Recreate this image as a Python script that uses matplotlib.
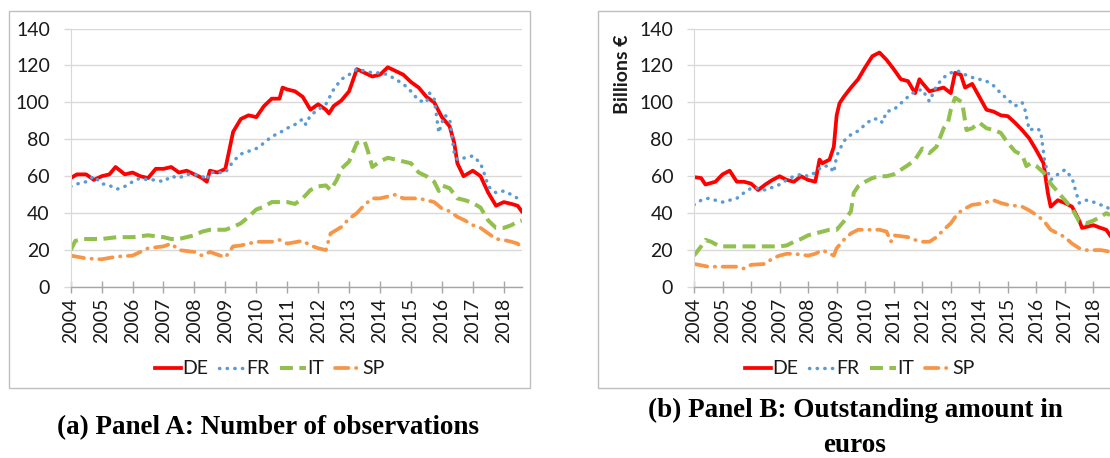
import matplotlib
matplotlib.use("Agg")
import matplotlib.pyplot as plt
from matplotlib.patches import Rectangle

plt.rcParams["font.family"] = ["Lato", "DejaVu Sans"]

# colours (Excel default palette)
C_DE = "#ff0000"
C_FR = "#5b9bd5"
C_IT = "#92c04f"
C_SP = "#f79646"
C_GRID = "#d9d9d9"
C_AXIS = "#a6a6a6"
C_TEXT = "#1a1a1a"

years = list(range(2004, 2019))
series_names = ["DE", "FR", "IT", "SP"]

# ---- Panel A: number of observations ----
a_de_x = [2004.0, 2004.2, 2004.5, 2004.75, 2005.0, 2005.25, 2005.45, 2005.75, 2006.0, 2006.25,
          2006.5, 2006.75, 2007.0, 2007.25, 2007.5, 2007.75, 2008.0, 2008.25, 2008.4, 2008.5,
          2008.75, 2009.0, 2009.25, 2009.5, 2009.75, 2010.0, 2010.25, 2010.5, 2010.75, 2010.85,
          2011.0, 2011.25, 2011.5, 2011.75, 2012.0, 2012.25, 2012.35, 2012.5, 2012.75, 2013.0,
          2013.25, 2013.5, 2013.75, 2014.0, 2014.25, 2014.5, 2014.75, 2015.0, 2015.25, 2015.5,
          2015.75, 2016.0, 2016.25, 2016.4, 2016.5, 2016.7, 2017.0, 2017.25, 2017.5, 2017.75,
          2018.0, 2018.25, 2018.45, 2018.58]
a_de_y = [59, 61, 61, 58, 60, 61, 65, 61, 62, 60,
          59, 64, 64, 65, 62, 63, 61, 59, 57, 63,
          62, 64, 84, 91, 93, 92, 98, 102, 102, 108,
          107, 106, 103, 96, 99, 96, 94, 98, 101, 106,
          118, 116, 114, 115, 119, 117, 115, 111, 108, 103,
          100, 92, 87, 78, 67, 60, 63, 60, 51, 44,
          46, 45, 44, 41]

a_fr_x = [2004.0, 2004.25, 2004.5, 2004.75, 2005.0, 2005.25, 2005.5, 2005.75, 2006.0, 2006.25,
          2006.5, 2006.75, 2007.0, 2007.25, 2007.5, 2007.75, 2008.0, 2008.25, 2008.4, 2008.5,
          2008.75, 2009.0, 2009.25, 2009.5, 2009.75, 2010.0, 2010.25, 2010.5, 2010.75, 2011.0,
          2011.25, 2011.5, 2011.6, 2011.75, 2012.0, 2012.25, 2012.5, 2012.75, 2013.0, 2013.25,
          2013.5, 2013.75, 2014.0, 2014.25, 2014.5, 2014.75, 2015.0, 2015.25, 2015.5, 2015.6,
          2015.75, 2015.9, 2016.0, 2016.1, 2016.25, 2016.4, 2016.5, 2016.75, 2017.0, 2017.25,
          2017.4, 2017.5, 2017.75, 2018.0, 2018.25, 2018.45, 2018.58]
a_fr_y = [54.5, 56, 57, 60, 56, 55, 53, 54.5, 57, 59,
          58, 58, 57, 60, 59, 61, 61, 60, 58, 62,
          62, 62, 68, 72, 73.5, 75, 78, 81.5, 83.5, 86,
          88, 91, 88, 93, 96, 99, 107, 112.5, 115, 118,
          117, 116, 116, 115, 112.5, 110, 106, 101, 100, 105,
          102, 83.5, 89, 93, 91, 72.5, 69, 70, 71, 67,
          60, 54.5, 51, 52, 50, 48, 46]

a_it_x = [2004.0, 2004.15, 2004.4, 2004.75, 2005.0, 2005.5, 2006.0, 2006.5, 2007.0, 2007.25,
          2007.5, 2008.0, 2008.25, 2008.5, 2009.0, 2009.25, 2009.5, 2009.75, 2010.0, 2010.25,
          2010.5, 2011.0, 2011.25, 2011.5, 2011.75, 2012.0, 2012.25, 2012.4, 2012.6, 2012.75,
          2013.0, 2013.25, 2013.5, 2013.6, 2013.75, 2014.0, 2014.25, 2014.5, 2014.75, 2015.0,
          2015.25, 2015.5, 2015.75, 2015.9, 2016.0, 2016.25, 2016.5, 2016.75, 2017.0, 2017.25,
          2017.5, 2017.75, 2018.0, 2018.25, 2018.45, 2018.58]
a_it_y = [20, 25, 26, 26, 26, 27, 27, 28, 27, 26,
          26, 28, 30, 31, 31, 32.5, 34.5, 38, 42, 43.5,
          46, 46, 45, 48, 52.5, 54.5, 55, 52.5, 58, 64,
          68, 78, 79, 74, 65, 68, 70, 69, 68, 67,
          62, 60, 57, 52, 55, 53.5, 48, 47, 45.5, 43,
          36, 32, 32, 33.5, 35.5, 36]

a_sp_x = [2004.0, 2004.5, 2005.0, 2005.5, 2006.0, 2006.25, 2006.5, 2007.0, 2007.25, 2007.5,
          2008.0, 2008.25, 2008.5, 2009.0, 2009.25, 2009.5, 2010.0, 2010.5, 2010.75, 2011.0,
          2011.5, 2011.75, 2012.0, 2012.25, 2012.4, 2012.75, 2013.0, 2013.25, 2013.5, 2013.75,
          2014.0, 2014.25, 2014.5, 2014.75, 2015.0, 2015.25, 2015.5, 2015.75, 2016.0, 2016.25,
          2016.5, 2016.75, 2017.0, 2017.25, 2017.5, 2017.75, 2018.0, 2018.25, 2018.45, 2018.58]
a_sp_y = [17, 15.5, 15, 16.5, 17, 19, 21, 22, 23.5, 20,
          19, 17, 19, 16, 22, 22.5, 24.5, 24.5, 25.5, 23.5,
          25, 22.5, 21, 20, 29, 32.5, 37, 40, 44.5, 48,
          48, 49, 50, 48, 48, 48, 47, 46, 42.5, 41,
          38, 36, 33.5, 32, 29, 26, 25.5, 24.5, 23.5, 21]

# ---- Panel B: outstanding amount (billions EUR) ----
b_de_x = [2004.0, 2004.25, 2004.4, 2004.75, 2005.0, 2005.25, 2005.5, 2005.75, 2006.0, 2006.25,
          2006.5, 2006.75, 2007.0, 2007.25, 2007.5, 2007.75, 2008.0, 2008.25, 2008.4, 2008.5,
          2008.75, 2008.9, 2009.0, 2009.1, 2009.25, 2009.5, 2009.75, 2010.0, 2010.25, 2010.5,
          2010.75, 2011.0, 2011.25, 2011.5, 2011.75, 2011.9, 2012.0, 2012.25, 2012.5, 2012.75,
          2013.0, 2013.15, 2013.35, 2013.5, 2013.75, 2014.0, 2014.25, 2014.5, 2014.75, 2015.0,
          2015.25, 2015.5, 2015.75, 2016.0, 2016.25, 2016.4, 2016.5, 2016.75, 2017.0, 2017.25,
          2017.5, 2017.6, 2018.0, 2018.25, 2018.45, 2018.58]
b_de_y = [59.5, 59, 55.5, 57, 61, 63, 57, 57, 56, 52.5,
          55.5, 58, 60, 58, 57, 60, 58, 57, 69, 67,
          69, 76, 93, 99.5, 103, 108, 112.5, 119, 125, 127,
          123, 118, 112.5, 111.5, 105, 112.5, 110.5, 106, 107, 108,
          105, 116, 115, 108, 110, 103, 96, 95, 93, 92.5,
          89, 85, 80.5, 74, 67, 51, 43.5, 47, 45.5, 43.5,
          36, 32, 33.5, 32, 31, 28]

b_fr_x = [2004.0, 2004.25, 2004.5, 2004.75, 2005.0, 2005.5, 2005.75, 2006.0, 2006.25, 2006.5,
          2007.0, 2007.25, 2007.5, 2007.75, 2008.0, 2008.25, 2008.5, 2008.75, 2008.9, 2009.0,
          2009.25, 2009.5, 2009.75, 2010.0, 2010.25, 2010.5, 2010.6, 2010.75, 2011.0, 2011.25,
          2011.5, 2011.75, 2012.0, 2012.25, 2012.5, 2012.75, 2013.0, 2013.25, 2013.5, 2013.75,
          2014.0, 2014.25, 2014.5, 2014.75, 2015.0, 2015.25, 2015.5, 2015.6, 2015.75, 2016.0,
          2016.15, 2016.3, 2016.5, 2016.75, 2017.0, 2017.25, 2017.5, 2017.75, 2018.0, 2018.25,
          2018.45, 2018.58]
b_fr_y = [44.5, 47, 48, 47, 46, 48, 51, 53.5, 53.5, 52.5,
          55.5, 58, 60, 61, 60, 62, 65.5, 65.5, 62, 71,
          79, 82.5, 84.5, 88, 91, 91, 89, 95, 96, 99.5,
          103, 106, 107, 100.5, 109, 113.5, 116, 117, 115, 113.5,
          112.5, 111.5, 109, 105, 101.5, 98, 100, 96, 85, 86,
          84.5, 67, 58, 61, 63.5, 59, 45.5, 47, 46, 44.5,
          43.5, 42]

b_it_x = [2004.0, 2004.25, 2004.4, 2004.6, 2004.9, 2005.25, 2005.5, 2006.0, 2006.5, 2007.0,
          2007.25, 2007.5, 2007.75, 2008.0, 2008.25, 2008.5, 2008.75, 2009.0, 2009.25, 2009.5,
          2009.6, 2009.75, 2010.0, 2010.25, 2010.5, 2010.75, 2011.0, 2011.25, 2011.5, 2011.75,
          2012.0, 2012.25, 2012.5, 2012.75, 2012.9, 2013.0, 2013.15, 2013.4, 2013.55, 2013.75,
          2014.0, 2014.25, 2014.5, 2014.75, 2015.0, 2015.25, 2015.5, 2015.65, 2015.8, 2016.0,
          2016.25, 2016.5, 2016.75, 2017.0, 2017.25, 2017.5, 2017.75, 2018.0, 2018.25, 2018.45,
          2018.58]
b_it_y = [17, 22, 25.5, 24.5, 22, 22, 22, 22, 22, 22,
          22.5, 24.5, 26, 28, 29, 30, 31, 31, 35.5, 41,
          51, 54.5, 57, 59, 60, 60, 61, 63.5, 66, 69,
          75, 72.5, 76, 86, 89, 96, 102.5, 100, 85, 86,
          89, 86, 85, 83.5, 78, 73.5, 71.5, 65.5, 67, 65.5,
          62, 56, 51.5, 47, 42.5, 35.5, 34.5, 36, 38, 40,
          39]

b_sp_x = [2004.0, 2004.5, 2005.0, 2005.5, 2005.75, 2006.0, 2006.5, 2006.75, 2007.0, 2007.25,
          2007.5, 2008.0, 2008.25, 2008.5, 2008.9, 2009.0, 2009.25, 2009.5, 2009.75, 2010.0,
          2010.5, 2010.75, 2010.9, 2011.0, 2011.5, 2011.75, 2012.0, 2012.25, 2012.5, 2012.75,
          2013.0, 2013.25, 2013.5, 2013.75, 2014.0, 2014.25, 2014.5, 2014.75, 2015.0, 2015.25,
          2015.5, 2015.75, 2016.0, 2016.25, 2016.5, 2016.75, 2017.0, 2017.25, 2017.5, 2017.75,
          2018.0, 2018.25, 2018.45, 2018.58]
b_sp_y = [12.5, 11, 11, 11, 10, 12, 12.5, 15.5, 17, 18,
          18, 17, 18, 20, 17, 21, 25.5, 29, 31, 31,
          31, 30, 24.5, 28, 27, 25.5, 24.5, 24.5, 27, 31,
          34.5, 40, 42.5, 44.5, 45, 46, 47, 45.5, 44.5, 44,
          43.5, 41.5, 39, 36, 31, 29, 27, 23.5, 21, 20,
          20, 20, 19.5, 19]

styles = {
    "DE": dict(color=C_DE, lw=2.7, linestyle="-", solid_joinstyle="round"),
    "FR": dict(color=C_FR, lw=2.5, linestyle=(0, (0.1, 2.1)), dash_capstyle="round"),
    "IT": dict(color=C_IT, lw=2.9, linestyle=(0, (3.2, 1.6))),
    "SP": dict(color=C_SP, lw=2.7, linestyle=(0, (3.6, 2.0, 0.1, 2.0)), dash_capstyle="round"),
}

W, H = 1110, 458
fig = plt.figure(figsize=(W / 100, H / 100), dpi=100)


def fx(px):
    return px / W


def fy(py):
    return 1 - py / H


# panel frames
fig.patches.append(Rectangle((fx(9), fy(388)), fx(530 - 9), (388 - 11) / H,
                             transform=fig.transFigure, fill=False, ec="#bfbfbf", lw=1.0))
fig.patches.append(Rectangle((fx(598), fy(388)), fx(560), (388 - 11) / H,
                             transform=fig.transFigure, fill=False, ec="#bfbfbf", lw=1.0))


def draw_panel(ax, data, legend_cx):
    for name, (xs, ys) in zip(series_names, data):
        ax.plot(xs, ys, label=name, **styles[name])
    ax.set_xlim(2004, 2018.58)
    ax.set_ylim(0, 140)
    ax.set_yticks(range(0, 141, 20))
    ax.set_xticks(years)
    ax.set_xticklabels([str(y) for y in years], rotation=90)
    ax.yaxis.grid(True, color=C_GRID, lw=1.0)
    ax.set_axisbelow(True)
    for s in ["top", "right"]:
        ax.spines[s].set_visible(False)
    ax.spines["left"].set_color(C_GRID)
    ax.spines["bottom"].set_color(C_AXIS)
    ax.spines["bottom"].set_linewidth(1.0)
    ax.tick_params(axis="y", direction="out", length=5, color=C_GRID, width=1.0,
                   labelsize=14, labelcolor=C_TEXT, pad=10)
    ax.tick_params(axis="x", direction="inout", length=8, color=C_AXIS, width=1.0,
                   labelsize=14, labelcolor=C_TEXT, pad=4)
    ax.legend(loc="center", bbox_to_anchor=(fx(legend_cx), fy(369)),
              bbox_transform=fig.transFigure, ncol=4, frameon=False,
              fontsize=14, handlelength=1.3, handletextpad=0.1,
              columnspacing=0.55, borderpad=0, labelcolor=C_TEXT)


ax_a = fig.add_axes([fx(70.7), fy(287), fx(451), 258.5 / H])
draw_panel(ax_a, [(a_de_x, a_de_y), (a_fr_x, a_fr_y), (a_it_x, a_it_y), (a_sp_x, a_sp_y)], 270)

ax_b = fig.add_axes([fx(694), fy(287), fx(416), 258.5 / H])
draw_panel(ax_b, [(b_de_x, b_de_y), (b_fr_x, b_fr_y), (b_it_x, b_it_y), (b_sp_x, b_sp_y)], 860)

fig.text(fx(623), fy(74), "Billions €", rotation=90, ha="center", va="center",
         fontsize=14, fontweight="bold", color=C_TEXT)

cap_font = dict(family="Liberation Serif", fontweight="bold", fontsize=19.5, color="black",
                ha="center", va="center")
fig.text(fx(268), fy(428), "(a) Panel A: Number of observations", **cap_font)
fig.text(fx(855), fy(410), "(b) Panel B: Outstanding amount in", **cap_font)
fig.text(fx(855), fy(446), "euros", **cap_font)

fig.savefig("out.png", dpi=100)
